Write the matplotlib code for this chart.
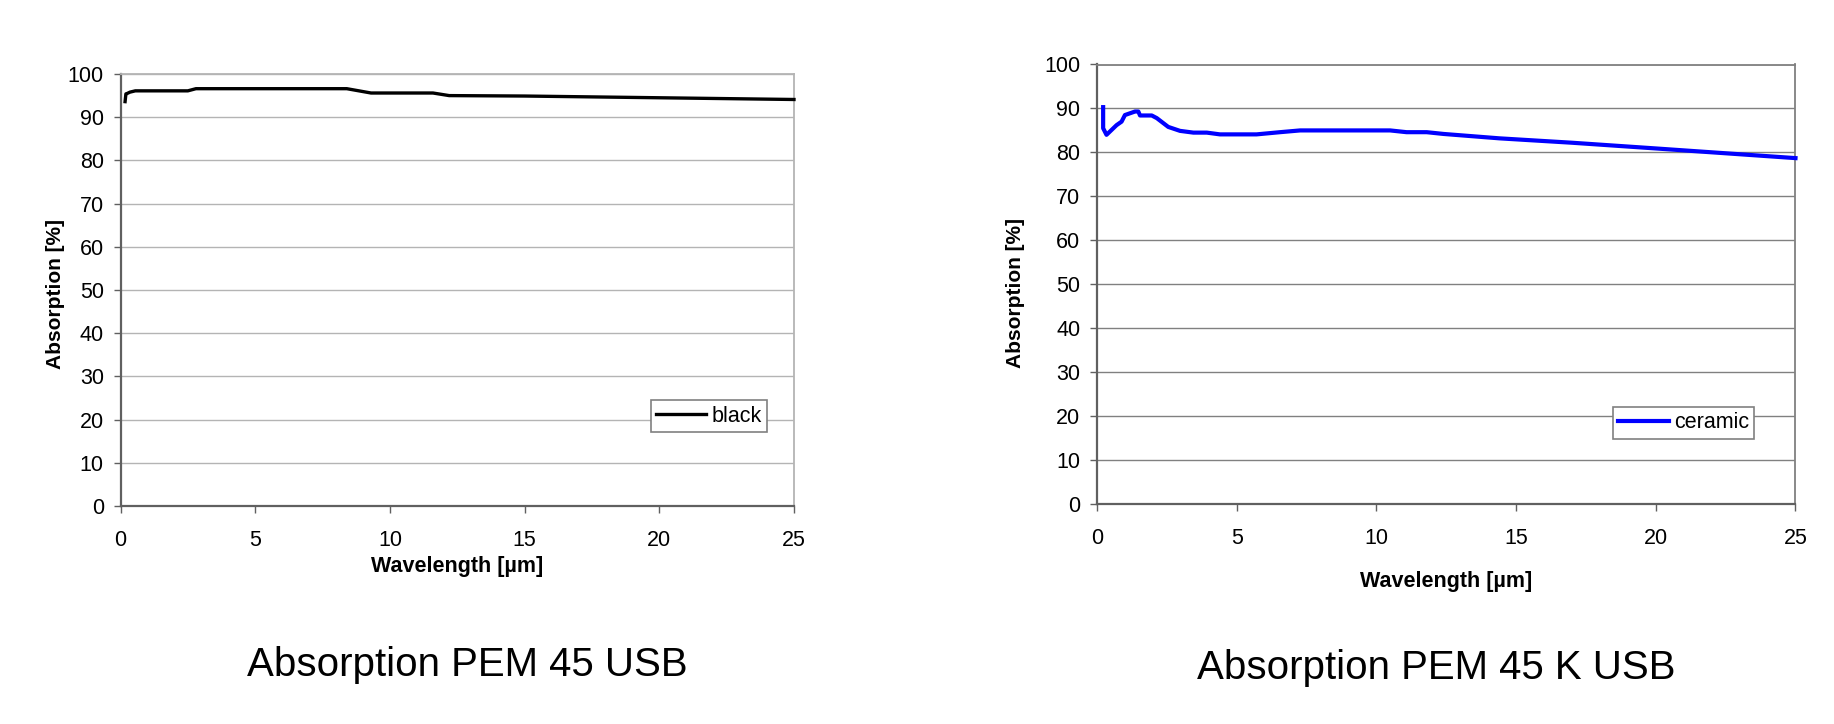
import matplotlib
matplotlib.use("Agg")
import matplotlib.pyplot as plt

plt.rcParams['font.family'] = ['Liberation Sans', 'DejaVu Sans']

# black coating, PEM 45 USB
x_black = [0.17, 0.20, 0.25, 0.35, 0.55, 2.5, 2.8, 8.4, 9.3, 11.6, 12.2, 15, 20, 25]
y_black = [93.6, 95.4, 95.5, 95.8, 96.1, 96.1, 96.6, 96.6, 95.6, 95.6, 95.0, 94.9, 94.5, 94.1]

# ceramic, PEM 45 K USB
x_ceramic = [0.22, 0.22, 0.34, 0.52, 0.70, 0.88, 1.0, 1.18, 1.36, 1.48, 1.54, 1.96, 2.14,
             2.55, 2.97, 3.45, 3.93, 4.40, 5.71, 6.55, 7.27, 10.49, 11.08, 11.80, 12.40,
             14.4, 17, 20, 22.5, 25]
y_ceramic = [90.3, 85.5, 84.0, 85.1, 86.2, 87.0, 88.5, 88.9, 89.3, 89.3, 88.4, 88.4, 87.8,
             85.8, 84.9, 84.5, 84.5, 84.1, 84.1, 84.6, 85.0, 85.0, 84.6, 84.6, 84.2,
             83.2, 82.2, 80.9, 79.8, 78.7]

x_ticks = [0, 5, 10, 15, 20, 25]
y_ticks = list(range(0, 101, 10))

fig = plt.figure(figsize=(18.34, 7.24), dpi=100)
W, H = 1834, 724

def make_axes(l, r, t, b):
    return fig.add_axes([l / W, 1 - b / H, (r - l) / W, (b - t) / H])

ax1 = make_axes(120.5, 794, 74, 506)
ax2 = make_axes(1097, 1795.5, 64.5, 504)

panels = [
    (ax1, x_black, y_black, 'black', 'black', 2.4, '#b4b4b4', (0.874, 0.208), -0.139, -0.0965, 0.49),
    (ax2, x_ceramic, y_ceramic, 'ceramic', '#0000ff', 3.0, '#808080', (0.840, 0.185), -0.176, -0.117, 0.48),
]

for ax, xs, ys, name, color, lw, gcol, legpos, xly, ylx, yly in panels:
    ax.plot(xs, ys, color=color, lw=lw, label=name, solid_joinstyle='round', clip_on=False, zorder=3)
    ax.set_xlim(0, 25)
    ax.set_ylim(0, 100)
    ax.set_xticks(x_ticks)
    ax.set_yticks(y_ticks)
    ax.grid(axis='y', color=gcol, lw=1.0)
    ax.set_axisbelow(True)
    for s in ['top', 'right']:
        ax.spines[s].set_color(gcol)
        ax.spines[s].set_linewidth(1.3)
    for s in ['left', 'bottom']:
        ax.spines[s].set_color('#606060')
        ax.spines[s].set_linewidth(1.6)
    ax.tick_params(axis='both', direction='out', length=5, width=1, color='#606060',
                   labelsize=15.5)
    ax.tick_params(axis='x', pad=12)
    ax.tick_params(axis='y', pad=7)
    ax.set_xlabel('Wavelength [µm]', fontsize=15.5, fontweight='bold', va='center')
    ax.xaxis.set_label_coords(0.5, xly)
    ax.set_ylabel('Absorption [%]', fontsize=15, fontweight='bold', va='center')
    ax.yaxis.set_label_coords(ylx, yly)
    leg = ax.legend(loc='center', bbox_to_anchor=legpos, fontsize=15.5, fancybox=False,
                    edgecolor='#808080', framealpha=1, borderaxespad=0, borderpad=0.25,
                    handlelength=2.33, handletextpad=0.25)
    leg.get_frame().set_linewidth(1.2)

fig.text(467 / W, 1 - 676.5 / H, 'Absorption PEM 45 USB', fontsize=29, ha='center', va='baseline')
fig.text(1436 / W, 1 - 679 / H, 'Absorption PEM 45 K USB', fontsize=29, ha='center', va='baseline')

fig.savefig('out.png', dpi=100)
